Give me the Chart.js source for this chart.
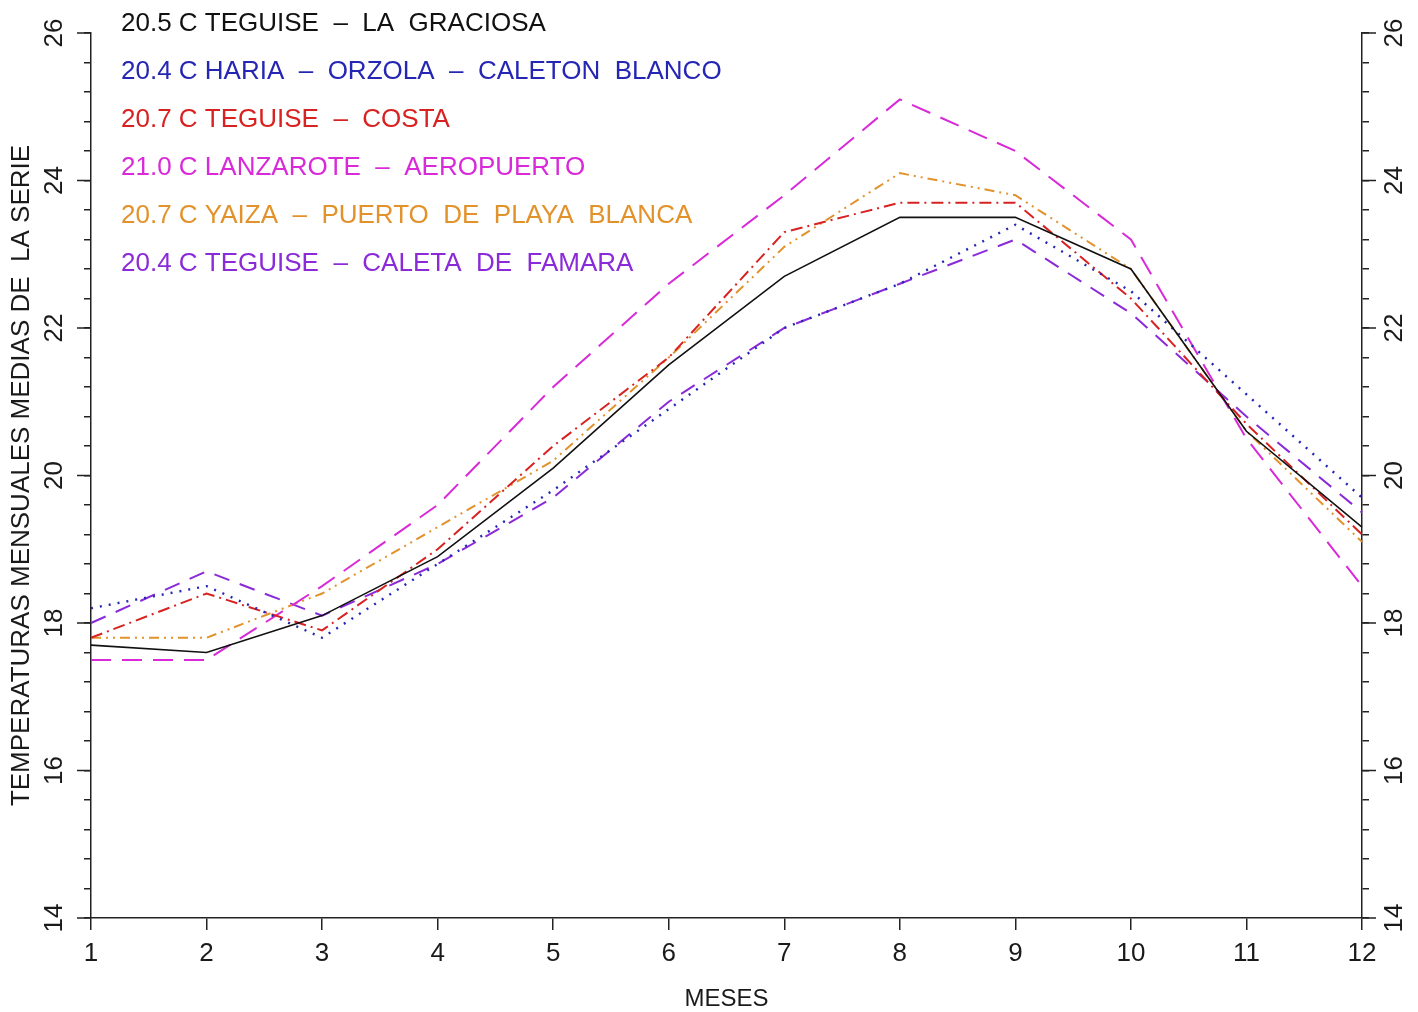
<!DOCTYPE html>
<html>
<head>
<meta charset="utf-8">
<script src="https://cdn.jsdelivr.net/npm/chart.js@4.4.1/dist/chart.umd.min.js"></script>
<style>
  html, body { margin: 0; padding: 0; background: #fff; }
  #wrap { width: 1418px; height: 1012px; }
</style>
</head>
<body>
<div id="wrap"><canvas id="tempChart"></canvas></div>
<script>
// meses del año
const meses = ['1', '2', '3', '4', '5', '6', '7', '8', '9', '10', '11', '12'];

// temperaturas medias mensuales
const laGraciosa   = [17.7, 17.6, 18.1, 18.9, 20.1, 21.5, 22.7, 23.5, 23.5, 22.8, 20.6, 19.3];
const haria        = [18.2, 18.5, 17.8, 18.8, 19.8, 20.9, 22.0, 22.6, 23.4, 22.5, 21.1, 19.7];
const teguiseCosta = [17.8, 18.4, 17.9, 19.0, 20.4, 21.6, 23.3, 23.7, 23.7, 22.4, 20.7, 19.2];
const aeropuerto   = [17.5, 17.5, 18.5, 19.6, 21.2, 22.6, 23.8, 25.1, 24.4, 23.2, 20.5, 18.5];
const playaBlanca  = [17.8, 17.8, 18.4, 19.3, 20.2, 21.6, 23.1, 24.1, 23.8, 22.8, 20.6, 19.1];
const famara       = [18.0, 18.7, 18.1, 18.8, 19.7, 21.0, 22.0, 22.6, 23.2, 22.2, 20.8, 19.5];

// textos de la leyenda
const nombres = [
  '20.5 C TEGUISE  \u2013  LA  GRACIOSA',
  '20.4 C HARIA  \u2013  ORZOLA  \u2013  CALETON  BLANCO',
  '20.7 C TEGUISE  \u2013  COSTA',
  '21.0 C LANZAROTE  \u2013  AEROPUERTO',
  '20.7 C YAIZA  \u2013  PUERTO  DE  PLAYA  BLANCA',
  '20.4 C TEGUISE  \u2013  CALETA  DE  FAMARA'
];

// etiquetas del eje Y
const yEtiquetas = [14, 16, 18, 20, 22, 24, 26];

const FONT = '"Liberation Sans", Arial, sans-serif';
const AXIS = '#222';
const TEXT = '#1a1a1a';

// marcas mayores, etiquetas giradas y leyenda de texto
const extras = {
  id: 'extras',
  afterDraw(chart) {
    const ctx = chart.ctx;
    const area = chart.chartArea;
    const y = chart.scales.y;
    ctx.save();
    ctx.strokeStyle = AXIS;
    ctx.lineWidth = 1.5;
    ctx.fillStyle = TEXT;
    ctx.font = '26px ' + FONT;
    ctx.textAlign = 'center';
    ctx.textBaseline = 'middle';
    yEtiquetas.forEach(v => {
      const py = y.getPixelForValue(v);
      ctx.beginPath();
      ctx.moveTo(area.left - 14, py); ctx.lineTo(area.left, py);
      ctx.moveTo(area.right, py); ctx.lineTo(area.right + 14, py);
      ctx.stroke();
      [area.left - 36, area.right + 33].forEach(px => {
        ctx.save();
        ctx.translate(px, py);
        ctx.rotate(-Math.PI / 2);
        ctx.fillText(String(v), 0, 0);
        ctx.restore();
      });
    });
    // leyenda
    ctx.textAlign = 'left';
    chart.data.datasets.forEach((ds, i) => {
      ctx.fillStyle = ds.borderColor;
      ctx.fillText(ds.label, area.left + 30, 24 + i * 48);
    });
    ctx.restore();
  }
};

function serie(label, data, color, dash, width) {
  return {
    label: label,
    data: data,
    borderColor: color,
    backgroundColor: color,
    borderDash: dash,
    borderWidth: width,
    pointRadius: 0,
    tension: 0,
    fill: false
  };
}

const ctx = document.getElementById('tempChart').getContext('2d');
new Chart(ctx, {
  type: 'line',
  data: {
    labels: meses,
    datasets: [
      serie(nombres[0], laGraciosa,   '#111111', [],               1.6),
      serie(nombres[1], haria,        '#2626b4', [2, 7],           2.4),
      serie(nombres[2], teguiseCosta, '#d82222', [12, 5, 2, 5],    2),
      serie(nombres[3], aeropuerto,   '#d82ad8', [20, 11],         2),
      serie(nombres[4], playaBlanca,  '#e2922a', [10, 5, 2, 5, 2, 5], 2),
      serie(nombres[5], famara,       '#8a2ad8', [16, 11],         2)
    ]
  },
  options: {
    responsive: true,
    maintainAspectRatio: false,
    animation: false,
    layout: { padding: { top: 33, left: 0, right: 0, bottom: 0 } },
    plugins: {
      legend: { display: false },
      tooltip: { enabled: false }
    },
    scales: {
      x: {
        type: 'category',
        offset: false,
        grid: { display: true, drawOnChartArea: false, offset: false, tickLength: 12, color: AXIS, lineWidth: 1.5 },
        border: { color: AXIS, width: 1.5 },
        ticks: { color: TEXT, font: { family: FONT, size: 26 }, padding: 8, maxRotation: 0, autoSkip: false },
        title: { display: true, text: 'MESES', color: TEXT, font: { family: FONT, size: 24 }, padding: { top: 0, bottom: -2 } },
        afterFit(scale) { scale.height = 94; }
      },
      y: {
        position: 'left',
        min: 14,
        max: 26,
        ticks: { display: false, stepSize: 0.4 },
        grid: { display: true, drawOnChartArea: false, tickLength: 7, color: AXIS, lineWidth: 1.5 },
        border: { color: AXIS, width: 1.5 },
        title: { display: true, text: 'TEMPERATURAS MENSUALES MEDIAS DE  LA SERIE', color: TEXT, font: { family: FONT, size: 26 }, padding: { top: 6, bottom: 0 } },
        afterFit(scale) { scale.width = 91; }
      },
      y2: {
        position: 'right',
        min: 14,
        max: 26,
        ticks: { display: false, stepSize: 0.4 },
        grid: { display: true, drawOnChartArea: false, tickLength: 7, color: AXIS, lineWidth: 1.5 },
        border: { color: AXIS, width: 1.5 },
        afterFit(scale) { scale.width = 56; }
      }
    }
  },
  plugins: [extras]
});
</script>
</body>
</html>
